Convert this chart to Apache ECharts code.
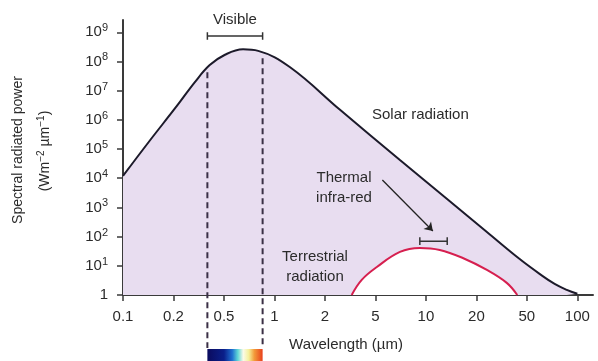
<!DOCTYPE html>
<html>
<head>
<meta charset="utf-8">
<script src="https://cdn.jsdelivr.net/npm/echarts@6/dist/echarts.min.js"></script>
<style>
  html, body { margin: 0; padding: 0; background: #fff; }
  #chart { width: 598px; height: 361px; }
</style>
</head>
<body>
<div id="chart"></div>
<script>
// x axis is drawn with evenly spaced 1-2-5 ticks
var xTicks = [0.1, 0.2, 0.5, 1, 2, 5, 10, 20, 50, 100];
var yTicks = [1, 1e1, 1e2, 1e3, 1e4, 1e5, 1e6, 1e7, 1e8, 1e9];

// solar radiation (black)
var solarWl  = [0.1, 0.145, 0.206, 0.296, 0.386, 0.507, 0.65, 0.8, 1.24, 2.63, 7.0, 13.6, 24.2, 43.9, 59.8, 73.2, 86.5, 100];
var solarVal = [1.2e4, 2e5, 2.5e6, 2e7, 7.5e7, 1.7e8, 2.6e8, 2.3e8, 6.3e7, 2.2e6, 4.2e4, 1.8e3, 144, 17, 5.2, 2.4, 1.5, 1.1];

// terrestrial radiation (red)
var terrWl  = [3.25, 3.9, 5.1, 7.0, 9.2, 12.1, 16.6, 24.2, 34.7, 42];
var terrVal = [1, 3.3, 9.1, 30, 41, 35, 18.5, 7.2, 2.6, 1];

// visible band edges and where the dashed lines start
var visibleWl  = [0.37, 0.85];
var visibleTop = [4.3e7, 1.3e8];
var visibleBracketY = 7.4e8;

// thermal infra-red window bracket and arrow
var thermalWl = [9.2, 13.4];
var thermalBracketY = 70;
var arrowFrom = [5.5, 8.7e3];
var arrowTo = [11, 155];

// wavelength -> position on the 1-2-5 axis
function pos(w) {
  for (var i = 0; i < xTicks.length - 1; i++) {
    if (w <= xTicks[i + 1]) {
      return i + Math.log(w / xTicks[i]) / Math.log(xTicks[i + 1] / xTicks[i]);
    }
  }
  return xTicks.length - 1;
}

function bracket(lo, hi, y) {
  var f = Math.pow(10, 0.13);
  return [[pos(lo), y * f], [pos(lo), y / f], [pos(lo), y], [pos(hi), y], [pos(hi), y * f], [pos(hi), y / f]];
}

var font = 'Liberation Sans, Arial, sans-serif';
var txt = '#2b2b2b';

var chart = echarts.init(document.getElementById('chart'));
chart.setOption({
  animation: false,
  grid: { left: 123, right: 5, top: 20, bottom: 66 },
  xAxis: {
    type: 'value',
    min: 0,
    max: 9.31,
    splitLine: { show: false },
    axisLine: { lineStyle: { color: '#3a3a3a', width: 2 } },
    axisTick: { customValues: xTicks.map(function (v, i) { return i; }), length: 6, lineStyle: { color: '#3a3a3a', width: 1.5 } },
    axisLabel: {
      customValues: xTicks.map(function (v, i) { return i; }),
      formatter: function (v) { return String(xTicks[Math.round(v)]); },
      color: txt, fontSize: 15, fontFamily: font, margin: 14
    }
  },
  yAxis: {
    type: 'log',
    logBase: 10,
    min: 1,
    max: Math.pow(10, 9.42),
    splitLine: { show: false },
    axisLine: { show: true, lineStyle: { color: '#3a3a3a', width: 2 } },
    axisTick: { show: true, customValues: yTicks, length: 6, lineStyle: { color: '#3a3a3a', width: 1.5 } },
    axisLabel: {
      customValues: yTicks,
      formatter: function (v) {
        var e = Math.round(Math.log10(v));
        return e === 0 ? '1' : '10{s|' + e + '}';
      },
      rich: { s: { fontSize: 11, padding: [0, 0, 8, 0], color: txt, fontFamily: font } },
      color: txt, fontSize: 15, fontFamily: font, margin: 15
    }
  },
  series: [
    {
      type: 'line',
      smooth: 0.4,
      symbol: 'none',
      data: solarWl.map(function (w, i) { return [pos(w), solarVal[i]]; }),
      lineStyle: { color: '#1c1a2a', width: 2 },
      areaStyle: { color: '#e8ddf0', opacity: 1, origin: 'start' },
      z: 2
    },
    {
      type: 'line',
      smooth: 0.4,
      symbol: 'none',
      data: terrWl.map(function (w, i) { return [pos(w), terrVal[i]]; }),
      lineStyle: { color: '#d61f4f', width: 2 },
      areaStyle: { color: '#ffffff', opacity: 1, origin: 'start' },
      z: 3
    },
    {
      type: 'line',
      symbol: 'none',
      data: bracket(visibleWl[0], visibleWl[1], visibleBracketY),
      lineStyle: { color: '#333', width: 1.5 },
      z: 4
    },
    {
      type: 'line',
      symbol: 'none',
      data: bracket(thermalWl[0], thermalWl[1], thermalBracketY),
      lineStyle: { color: '#333', width: 1.5 },
      markLine: {
        silent: true,
        symbol: ['none', 'arrow'],
        symbolSize: 8,
        label: { show: false },
        lineStyle: { color: '#222', width: 1.3, type: 'solid' },
        data: [[{ coord: [pos(arrowFrom[0]), arrowFrom[1]] }, { coord: [pos(arrowTo[0]), arrowTo[1]] }]]
      },
      z: 4
    }
  ]
});

// dashed visible-band lines, colour bar and text labels
var g = [];
var xs = [];
visibleWl.forEach(function (w, i) {
  var top = chart.convertToPixel({ gridIndex: 0 }, [pos(w), visibleTop[i]]);
  xs.push(top[0]);
  g.push({
    type: 'line', z: 10,
    shape: { x1: top[0], y1: top[1], x2: top[0], y2: 348 },
    style: { stroke: '#3a2f45', lineWidth: 2, lineDash: [6, 4] }
  });
});
g.push({
  type: 'rect', z: 10,
  shape: { x: xs[0], y: 349, width: xs[1] - xs[0], height: 12 },
  style: {
    fill: new echarts.graphic.LinearGradient(0, 0, 1, 0, [
      { offset: 0, color: '#0b0b5e' },
      { offset: 0.3, color: '#0a1f8a' },
      { offset: 0.45, color: '#1f6fd0' },
      { offset: 0.55, color: '#5fd6d6' },
      { offset: 0.65, color: '#fbfbe8' },
      { offset: 0.75, color: '#f5f09a' },
      { offset: 0.85, color: '#f39a3a' },
      { offset: 1, color: '#e8401c' }
    ])
  }
});
var tStyle = function (text, x, y, align) {
  return { type: 'text', z: 10, x: x, y: y,
    style: { text: text, fill: txt, font: '15px ' + font, textAlign: align || 'left', textVerticalAlign: 'middle' } };
};
g.push(tStyle('Visible', (xs[0] + xs[1]) / 2, 20, 'center'));
g.push(tStyle('Solar radiation', 372, 115));
g.push(tStyle('Thermal', 344, 178, 'center'));
g.push(tStyle('infra-red', 344, 198, 'center'));
g.push(tStyle('Terrestrial', 315, 257, 'center'));
g.push(tStyle('radiation', 315, 277, 'center'));
g.push(tStyle('Wavelength (\u00b5m)', 346, 345, 'center'));
g.push({
  type: 'text', z: 10, x: 18, y: 150, rotation: Math.PI / 2,
  style: { text: 'Spectral radiated power', fill: txt, font: '14px ' + font, textAlign: 'center', textVerticalAlign: 'middle' }
});
g.push({
  type: 'text', z: 10, x: 45, y: 151, rotation: Math.PI / 2,
  style: {
    text: '(Wm{s|\u22122} \u00b5m{s|\u22121})', fill: txt, font: '14px ' + font, textAlign: 'center', textVerticalAlign: 'middle',
    rich: { s: { fontSize: 10, padding: [0, 0, 8, 0], fill: txt, fontFamily: font } }
  }
});
chart.setOption({ graphic: g });
</script>
</body>
</html>
